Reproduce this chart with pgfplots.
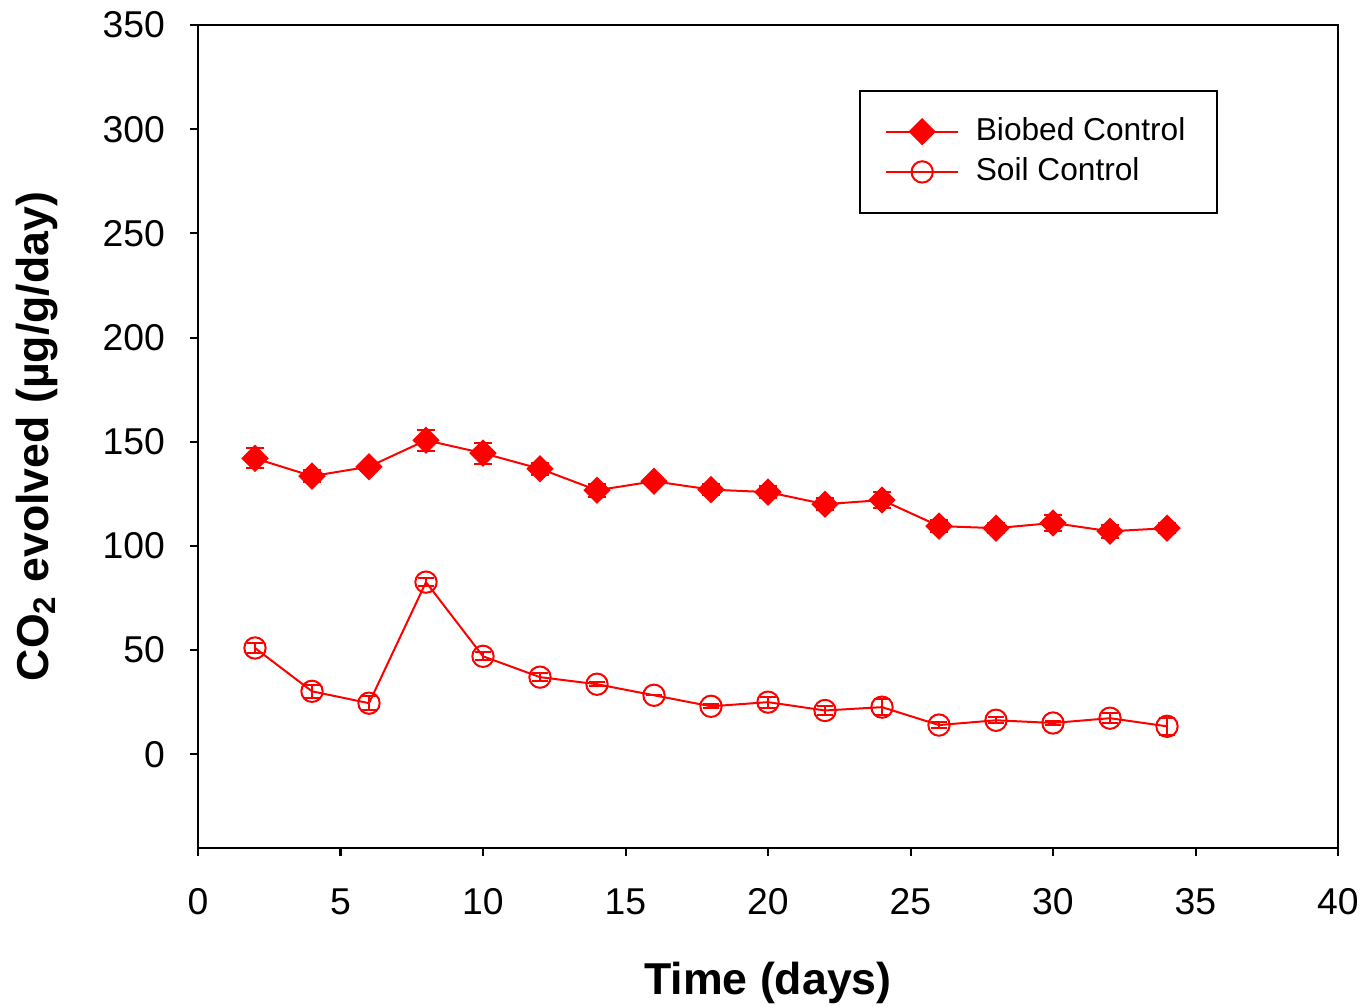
\documentclass[border=0pt]{standalone}
\usepackage{pgfplots}
\pgfplotsset{compat=1.18}
\usepackage{fontspec}
\setmainfont{Liberation Sans}

\begin{document}
\begin{tikzpicture}
    % page frame: 1px of the reference = 0.3pt, axis box lower left at origin
    \useasboundingbox (-59.4pt,-47.4pt) rectangle (350.4pt,254.4pt);
    \begin{axis}[
        scale only axis,
        width=342pt, height=246.9pt,
        xmin=0, xmax=40,
        ymin=-45, ymax=350,
        xtick={0,5,...,40},
        ytick={0,50,...,350},
        xtick pos=lower, ytick pos=left,
        tick align=outside,
        major tick length=2.4pt,
        axis line style={line width=0.6pt},
        tick style={line width=0.6pt, black},
        /pgf/number format/assume math mode=true,
        tick label style={font=\fontsize{11.2}{13}\selectfont},
        yticklabel style={xshift=-4pt},
        xticklabel style={yshift=-6.2pt},
        xlabel={\bfseries Time (days)},
        ylabel={\bfseries CO\textsubscript{2} evolved (µg/g/day)},
        label style={font=\fontsize{13.4}{16}\selectfont},
        xlabel style={at={(axis description cs:0.5,-0.164)}, anchor=center},
        ylabel style={at={(axis description cs:-0.141,0.5)}, anchor=center},
        legend style={
            at={(0.58,0.921)}, anchor=north west,
            draw=black, line width=0.6pt,
            font=\fontsize{9.5}{11}\selectfont,
            inner xsep=7.5pt, inner ysep=6pt,
            row sep=-0.3pt,
            cells={anchor=west},
            /tikz/every odd column/.style={column sep=3pt},
        },
        legend image code/.code={
            \draw[mark repeat=2, mark phase=2, #1]
                plot coordinates {(0pt,0pt) (10.8pt,0pt) (21.6pt,0pt)};
        },
    ]
        \addplot[red, line width=0.6pt, mark=square*, mark size=2.6pt,
            mark options={rotate=45, fill=red, solid},
            error bars/.cd, y dir=both, y explicit,
            error bar style={line width=0.6pt, red},
            error mark options={rotate=90, mark size=2.7pt, line width=0.6pt, red}]
            table[x=x, y=y, y error=e] {
            x  y      e
            2  142.0  4.8
            4  133.5  3.0
            6  138.0  2.0
            8  150.7  5.0
            10 144.5  5.0
            12 137.0  3.0
            14 126.7  3.0
            16 131.0  1.0
            18 127.0  2.5
            20 125.8  3.0
            22 120.0  3.0
            24 122.0  4.0
            26 109.5  3.0
            28 108.5  2.5
            30 111.0  4.0
            32 107.0  3.0
            34 108.5  2.5
        };
        \addlegendentry{Biobed Control}
        \addplot[red, line width=0.6pt, mark=o, mark size=3.2pt,
            mark options={solid, line width=0.6pt},
            error bars/.cd, y dir=both, y explicit,
            error bar style={line width=0.6pt, red},
            error mark options={rotate=90, mark size=2.4pt, line width=0.6pt, red}]
            table[x=x, y=y, y error=e] {
            x  y     e
            2  51.0  2.5
            4  30.2  3.0
            6  24.5  3.5
            8  82.6  2.0
            10 47.0  2.0
            12 37.0  2.0
            14 33.6  1.0
            16 28.3  0.0
            18 23.0  1.0
            20 25.0  2.7
            22 21.0  2.0
            24 22.6  4.0
            26 14.0  1.5
            28 16.3  1.5
            30 15.0  1.0
            32 17.3  2.5
            34 13.4  4.0
        };
        \addlegendentry{Soil Control}
    \end{axis}
\end{tikzpicture}
\end{document}
